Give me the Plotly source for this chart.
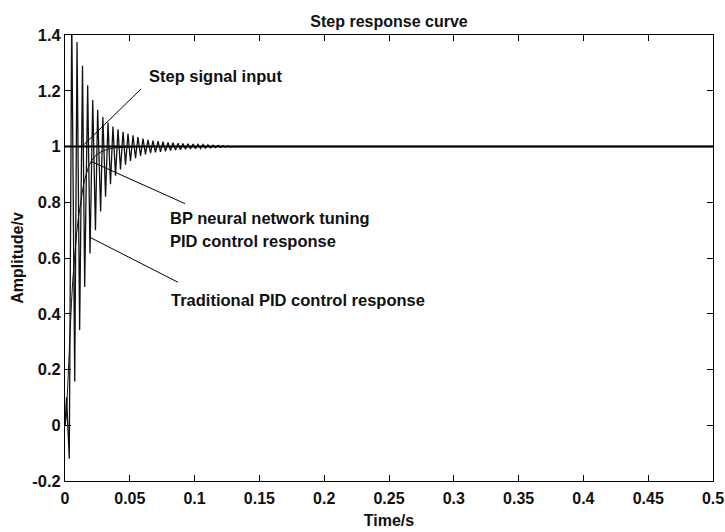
import plotly.graph_objects as go

# ---------------- data ----------------
# Step signal input
step_t = [0.0, 0.5]
step_y = [1.0, 1.0]

# BP neural network tuned PID response (smooth rise)
bp_t = [0.0, 0.001, 0.002, 0.003, 0.004, 0.005, 0.006, 0.0075, 0.009, 0.0105,
        0.012, 0.014, 0.016, 0.018, 0.020, 0.023, 0.027, 0.032, 0.038, 0.045,
        0.055, 0.5]
bp_y = [0.0, 0.03, 0.13, 0.25, 0.35, 0.44, 0.52, 0.61, 0.69, 0.75,
        0.80, 0.855, 0.895, 0.925, 0.945, 0.965, 0.979, 0.989, 0.995, 0.998,
        1.0, 1.0]

# Traditional PID response (turning points of the oscillation)
pid_t = [0.0, 0.0012, 0.0033, 0.0052, 0.0075, 0.0093, 0.0113, 0.0135, 0.0152, 0.0175,
         0.0193, 0.0214, 0.0235, 0.0252, 0.0275, 0.0292, 0.0313, 0.0332, 0.0351, 0.0370,
         0.0390, 0.0409, 0.0428, 0.0448, 0.0467, 0.0486, 0.0505, 0.0525, 0.0544, 0.0563,
         0.0583, 0.0602, 0.0621, 0.0640, 0.0660, 0.0679, 0.0698, 0.0718, 0.0737, 0.0756,
         0.0775, 0.0795, 0.0814, 0.0833, 0.0853, 0.0872, 0.0891, 0.0910, 0.0930, 0.0949,
         0.0968, 0.0988, 0.1007, 0.1026, 0.1046, 0.1065, 0.1084, 0.1103, 0.1123, 0.1142,
         0.1161, 0.1181, 0.1200, 0.1219, 0.1238, 0.1257, 0.1276, 0.1296, 0.5]
pid_y = [0.0, 0.10, -0.12, 1.48, 0.157, 1.375, 0.342, 1.29, 0.496, 1.22,
         0.616, 1.167, 0.70, 1.132, 0.767, 1.106, 0.82, 1.086, 0.865, 1.072,
         0.895, 1.062, 0.918, 1.053, 0.935, 1.046, 0.948, 1.040, 0.958, 1.034,
         0.966, 1.028, 0.972, 1.024, 0.976, 1.021, 0.979, 1.019, 0.981, 1.017,
         0.983, 1.015, 0.985, 1.014, 0.987, 1.012, 0.988, 1.011, 0.990, 1.010,
         0.991, 1.009, 0.992, 1.008, 0.993, 1.007, 0.994, 1.006, 0.995, 1.005,
         0.996, 1.004, 0.997, 1.003, 0.998, 1.002, 0.999, 1.0, 1.0]

x_tick_vals = [0, 0.05, 0.1, 0.15, 0.2, 0.25, 0.3, 0.35, 0.4, 0.45, 0.5]
x_tick_text = ["0", "0.05", "0.1", "0.15", "0.2", "0.25", "0.3", "0.35", "0.4", "0.45", "0.5"]
y_tick_vals = [-0.2, 0, 0.2, 0.4, 0.6, 0.8, 1.0, 1.2, 1.4]
y_tick_text = ["-0.2", "0", "0.2", "0.4", "0.6", "0.8", "1", "1.2", "1.4"]

title_text = "Step response curve"
x_title = "Time/s"
y_title = "Amplitude/v"
label_step = "Step signal input"
label_bp_1 = "BP neural network tuning"
label_bp_2 = "PID control response"
label_pid = "Traditional PID control response"

# ---------------- figure ----------------
FONT = "Arial, 'Liberation Sans', Helvetica, sans-serif"
fig = go.Figure()

fig.add_trace(go.Scatter(x=pid_t, y=pid_y, mode="lines",
                         line=dict(color="#111111", width=1.3), showlegend=False))
fig.add_trace(go.Scatter(x=bp_t, y=bp_y, mode="lines",
                         line=dict(color="#111111", width=1), showlegend=False))
fig.add_trace(go.Scatter(x=step_t, y=step_y, mode="lines",
                         line=dict(color="black", width=2), showlegend=False))

# leader lines
leaders = [
    ((0.0131, 1.0), (0.0586, 1.206)),
    ((0.0208, 0.945), (0.0926, 0.795)),
    ((0.0193, 0.674), (0.0872, 0.513)),
]
for (x0, y0), (x1, y1) in leaders:
    fig.add_shape(type="line", xref="x", yref="y", x0=x0, y0=y0, x1=x1, y1=y1,
                  line=dict(color="black", width=1))

labels = [
    (label_step, 0.063, 1.2525),
    (label_bp_1, 0.0792, 0.742),
    (label_bp_2, 0.0792, 0.660),
    (label_pid, 0.0802, 0.449),
]
for txt, x, y in labels:
    fig.add_annotation(x=x, y=y, xref="x", yref="y", text="<b>%s</b>" % txt,
                       showarrow=False, xanchor="left", yanchor="middle",
                       font=dict(family=FONT, size=16.5, color="#111"))

axis_common = dict(showline=True, linecolor="black", linewidth=1, mirror="ticks",
                   ticks="inside", ticklen=6, tickcolor="black", tickwidth=1,
                   showgrid=False, zeroline=False, automargin=False)

fig.update_xaxes(range=[0, 0.5], tickvals=x_tick_vals, ticktext=["<b>%s</b>" % t for t in x_tick_text],
                 tickfont=dict(family=FONT, size=16, color="#111"), ticklabelstandoff=3,
                 title=dict(text="<b>%s</b>" % x_title, font=dict(family=FONT, size=16, color="#111"), standoff=8),
                 **axis_common)
fig.update_yaxes(range=[-0.2, 1.4], tickvals=y_tick_vals, ticktext=["<b>%s</b>" % t for t in y_tick_text],
                 tickfont=dict(family=FONT, size=16.5, color="#111"),
                 title=dict(text="<b>%s</b>" % y_title, font=dict(family=FONT, size=16, color="#111"), standoff=4),
                 **axis_common)

fig.update_layout(
    width=725, height=532,
    margin=dict(l=65, r=12, t=35, b=51, autoexpand=False),
    paper_bgcolor="white", plot_bgcolor="white",
    title=dict(text="<b>%s</b>" % title_text, x=0.5366, xanchor="center",
               y=0.9605, yanchor="middle",
               font=dict(family=FONT, size=16, color="#111")),
)

fig.write_html("out.html", config={"displayModeBar": False},
               post_script="document.body.style.margin='0';document.body.style.overflow='hidden';")
